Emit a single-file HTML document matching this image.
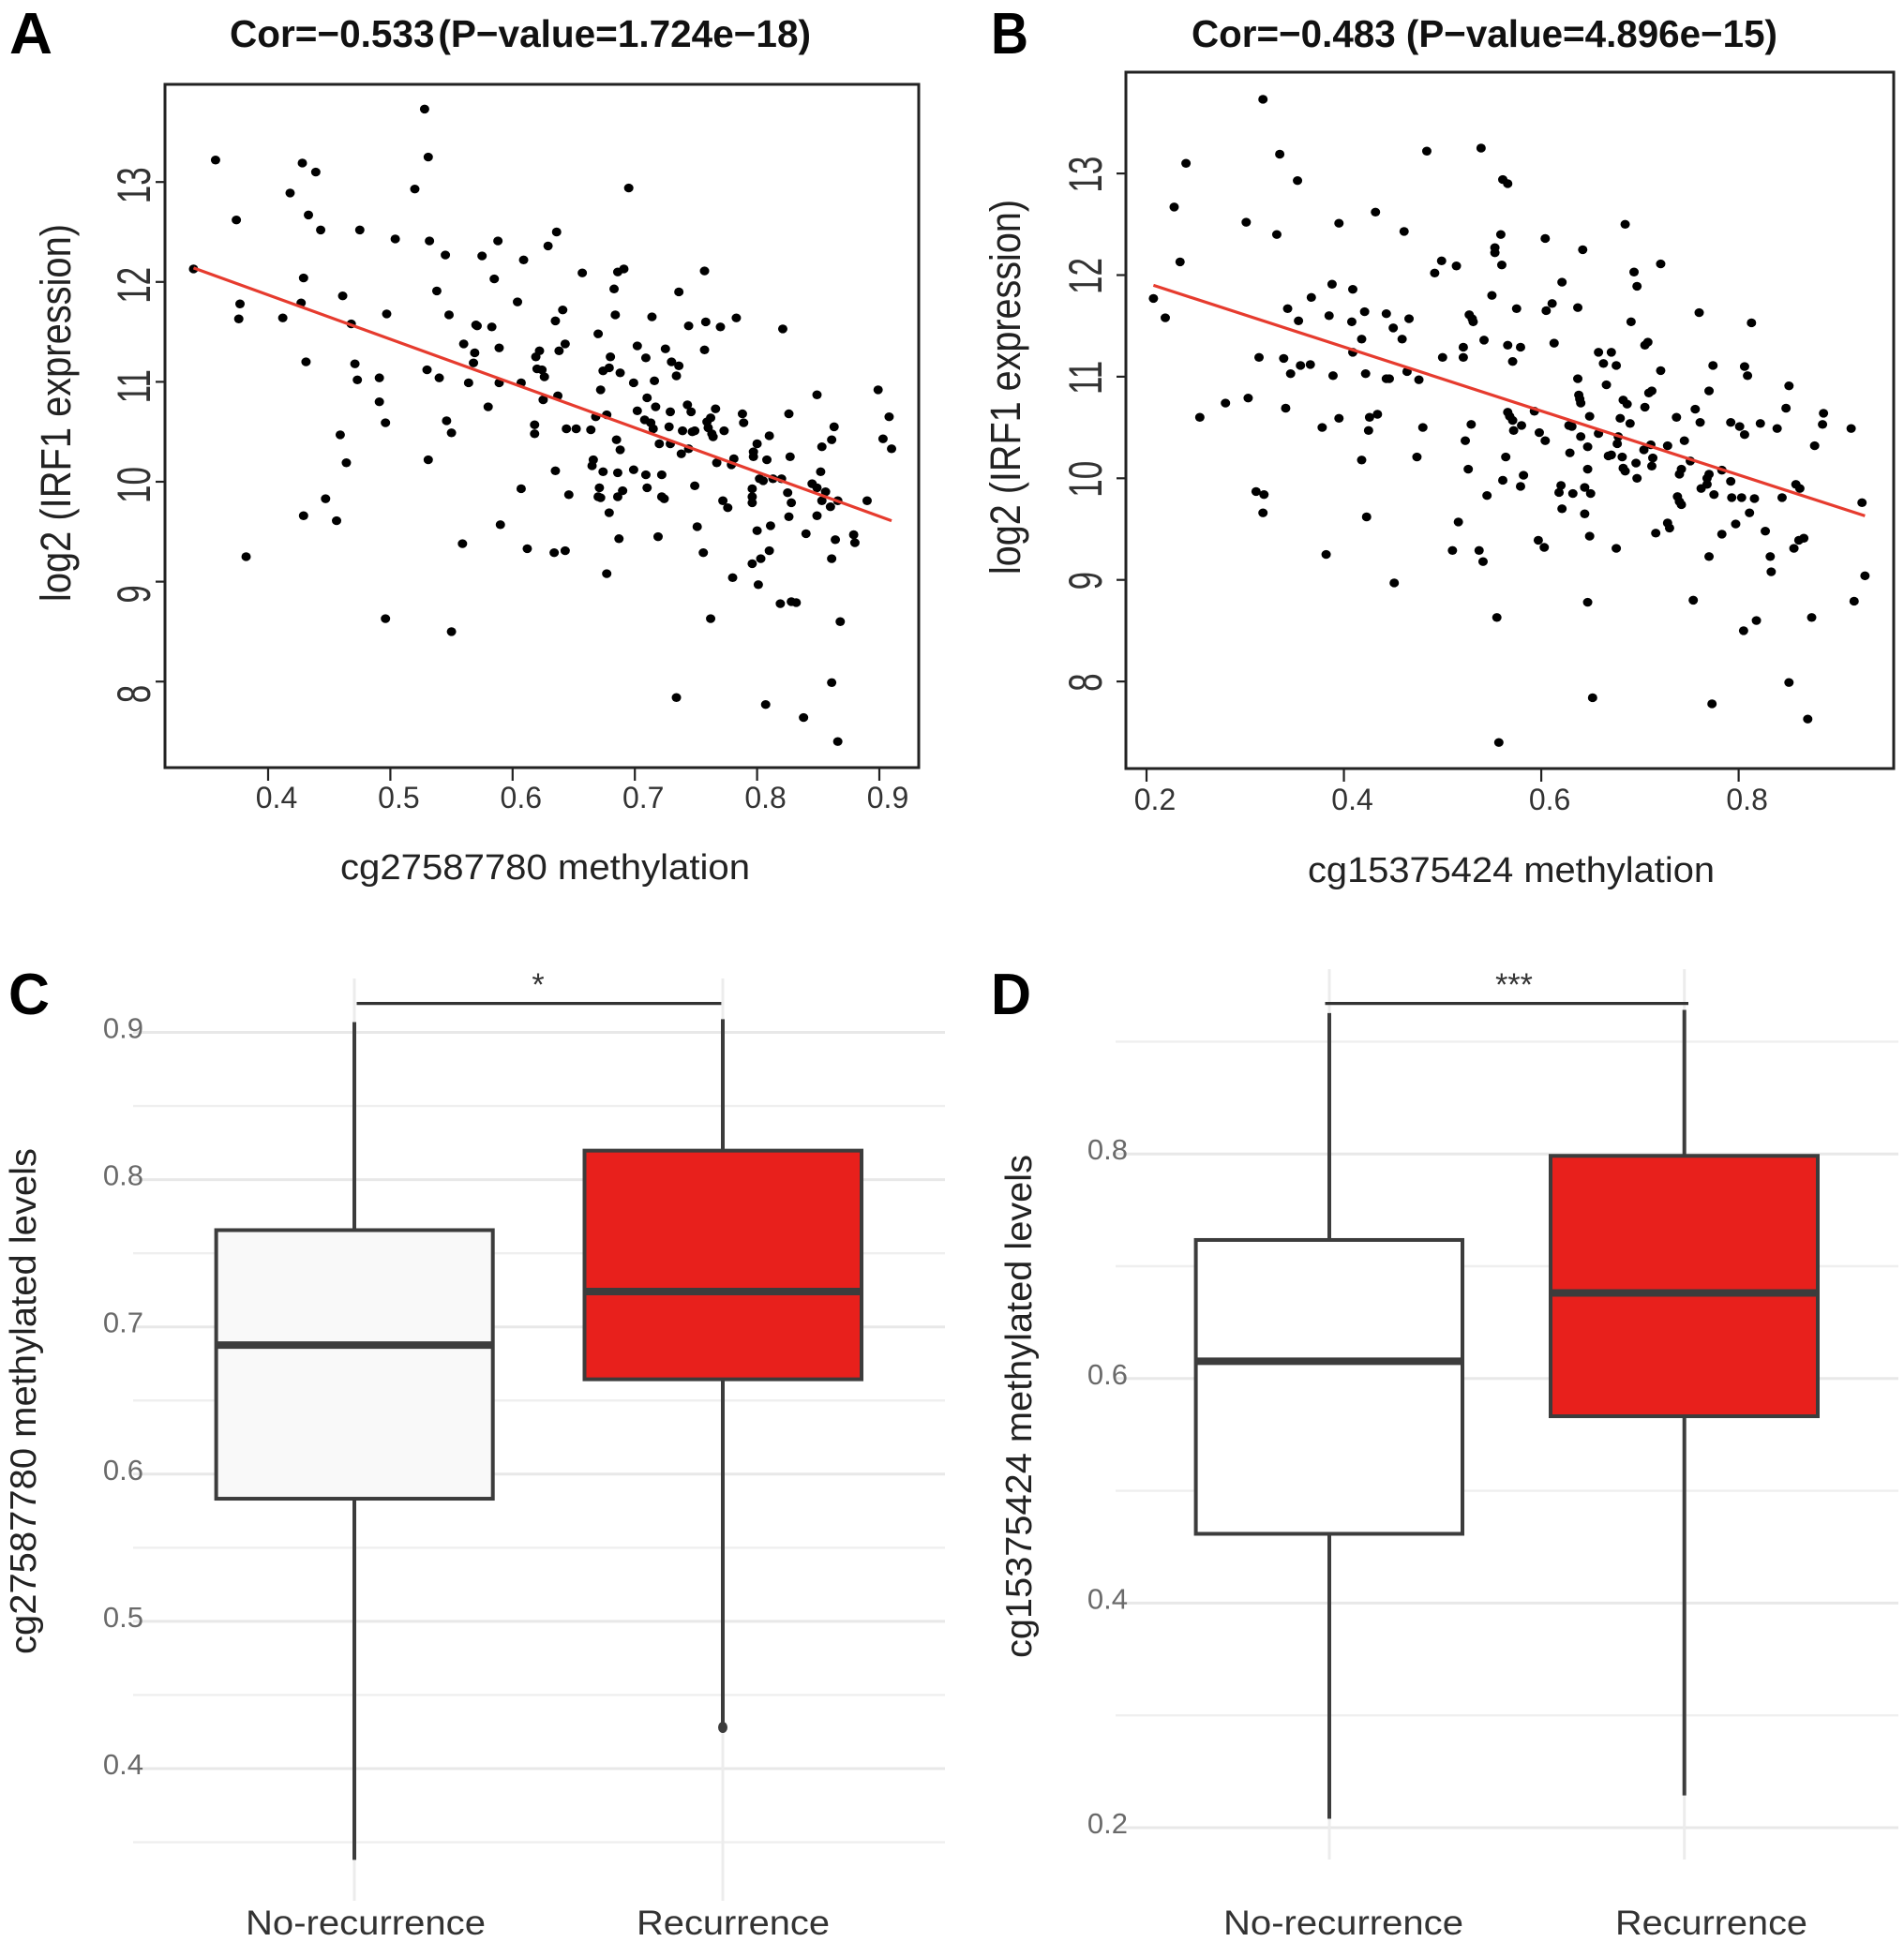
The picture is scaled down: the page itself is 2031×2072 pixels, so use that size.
<!DOCTYPE html>
<html lang="en">
<head>
<meta charset="utf-8">
<title>IRF1 expression and methylation</title>
<style>
html,body{margin:0;padding:0;background:#fff;}
svg{display:block;}
text{font-family:"Liberation Sans",Arial,sans-serif;}
</style>
</head>
<body>
<svg id="fig" xmlns="http://www.w3.org/2000/svg" width="2031" height="2072" viewBox="0 0 2031 2072">
<rect x="0" y="0" width="2031" height="2072" fill="#fff"/>
<text x="10" y="57" font-size="62" font-weight="700" fill="#000" textLength="46" lengthAdjust="spacingAndGlyphs">A</text>
<text x="1057" y="57" font-size="62" font-weight="700" fill="#000" textLength="40" lengthAdjust="spacingAndGlyphs">B</text>
<text x="9" y="1082" font-size="62" font-weight="700" fill="#000" textLength="44" lengthAdjust="spacingAndGlyphs">C</text>
<text x="1057" y="1082" font-size="62" font-weight="700" fill="#000" textLength="43" lengthAdjust="spacingAndGlyphs">D</text>

<text x="245" y="50" font-size="41" font-weight="700" fill="#111" textLength="620" lengthAdjust="spacingAndGlyphs">Cor=−0.533<tspan font-size="14"> </tspan>(P−value=1.724e−18)</text>
<text x="1271" y="50" font-size="41" font-weight="700" fill="#111" textLength="625" lengthAdjust="spacingAndGlyphs">Cor=−0.483 (P−value=4.896e−15)</text>

<text x="363" y="938" font-size="38" fill="#222" textLength="437" lengthAdjust="spacingAndGlyphs">cg27587780 methylation</text>
<text x="1395" y="941" font-size="38" fill="#222" textLength="434" lengthAdjust="spacingAndGlyphs">cg15375424 methylation</text>
<text transform="translate(75,642) rotate(-90)" x="0" y="0" font-size="45" fill="#222" textLength="403" lengthAdjust="spacingAndGlyphs">log2 (IRF1 expression)</text>
<text transform="translate(1088,613) rotate(-90)" x="0" y="0" font-size="45" fill="#222" textLength="400" lengthAdjust="spacingAndGlyphs">log2 (IRF1 expression)</text>
<text transform="translate(38,1765) rotate(-90)" x="0" y="0" font-size="39" fill="#222" textLength="540" lengthAdjust="spacingAndGlyphs">cg27587780 methylated levels</text>
<text transform="translate(1100,1769) rotate(-90)" x="0" y="0" font-size="39" fill="#222" textLength="537" lengthAdjust="spacingAndGlyphs">cg15375424 methylated levels</text>

<text x="262" y="2064" font-size="37" fill="#333" textLength="256" lengthAdjust="spacingAndGlyphs">No-recurrence</text>
<text x="679" y="2064" font-size="37" fill="#333" textLength="206" lengthAdjust="spacingAndGlyphs">Recurrence</text>
<text x="1305" y="2064" font-size="37" fill="#333" textLength="256" lengthAdjust="spacingAndGlyphs">No-recurrence</text>
<text x="1723" y="2064" font-size="37" fill="#333" textLength="205" lengthAdjust="spacingAndGlyphs">Recurrence</text>

<text x="574" y="1062" font-size="34" fill="#333" text-anchor="middle">*</text>
<text x="1615" y="1062" font-size="34" fill="#333" text-anchor="middle">***</text>
</svg>
<script>
// Panel A scatter values
const aXs = [.357,.528,.531,.428,.439,.520,.695,.418,.374,.433,.443,.475,.504,.532,.588,.636,.629,.545,.575,.609,.757,.691,.686,.657,.339,.429,.585,.683,.538,.736,.461,.604,.377,.427,.641,.497,.548,.684,.376,.412,.714,.783,.635,.758,.468,.570,.571,.583,.744,.770,.821,.670,.560,.643,.702,.725,.589,.757,.622,.638,.569,.619,.680,.709,.431,.471,.568,.730,.736,.530,.620,.624,.679,.674,.688,.626,.734,.491,.540,.473,.564,.589,.607,.699,.716,.899,.672,.637,.710,.849,.625,.491,.717,.743,.580,.702,.766,.729,.746,.788,.826,.677,.668,.908,.546,.496,.762,.789,.708,.713,.759,.618,.728,.644,.652,.664,.863,.715,.760,.459,.550,.618,.739,.747,.749,.773,.763,.764,.810,.903,.861,.685,.800,.720,.729,.853,.688,.744,.910,.738,.797,.827,.531,.797,.464,.666,.767,.781,.808,.779,.665,.635,.699,.674,.686,.709,.722,.852,.802,.805,.813,.820,.845,.849,.856,.607,.671,.749,.710,.690,.796,.825,.722,.724,.646,.670,.672,.686,.796,.796,.853,.828,.866,.890,.772,.860,.776,.447,.679,.429,.826,.849,.456,.590,.751,.811,.800,.840,.879,.719,.687,.864,.880,.559,.612,.634,.643,.810,.756,.803,.861,.382,.796,.677,.780,.801,.819,.828,.832,.496,.762,.868,.550,.734,.807,.861,.838,.866];
const aYs = [13.22,13.73,13.25,13.19,13.10,12.93,12.94,12.89,12.62,12.67,12.52,12.52,12.43,12.41,12.41,12.50,12.36,12.27,12.26,12.22,12.11,12.13,12.10,12.09,12.13,12.04,12.03,11.93,11.91,11.90,11.86,11.80,11.78,11.79,11.72,11.68,11.67,11.67,11.63,11.64,11.65,11.64,11.61,11.60,11.58,11.57,11.56,11.55,11.56,11.55,11.53,11.48,11.38,11.38,11.36,11.33,11.34,11.32,11.31,11.31,11.29,11.25,11.25,11.24,11.20,11.18,11.19,11.20,11.16,11.12,11.13,11.12,11.14,11.11,11.09,11.05,11.06,11.04,11.04,11.02,10.99,10.99,10.99,10.99,11.01,10.92,10.92,10.86,10.84,10.87,10.82,10.80,10.75,10.77,10.75,10.71,10.73,10.70,10.70,10.68,10.68,10.67,10.65,10.65,10.61,10.59,10.64,10.59,10.62,10.59,10.60,10.57,10.55,10.53,10.53,10.52,10.55,10.53,10.54,10.47,10.49,10.48,10.51,10.50,10.51,10.51,10.48,10.45,10.46,10.43,10.42,10.42,10.38,10.38,10.38,10.35,10.32,10.33,10.33,10.28,10.30,10.25,10.22,10.25,10.19,10.22,10.19,10.23,10.22,10.17,10.16,10.11,10.12,10.10,10.09,10.07,10.07,10.10,10.03,10.01,10.03,10.03,9.98,9.94,9.90,9.93,9.94,9.96,9.94,9.91,9.93,9.89,9.85,9.83,9.87,9.85,9.84,9.85,9.85,9.79,9.81,9.79,9.81,9.81,9.81,9.75,9.74,9.83,9.69,9.66,9.65,9.66,9.61,9.57,9.55,9.56,9.51,9.48,9.47,9.45,9.43,9.42,9.39,9.38,9.33,9.29,9.31,9.31,9.29,9.23,9.23,9.25,9.18,9.08,9.04,8.97,8.78,8.80,8.79,8.63,8.63,8.60,8.50,7.84,7.77,7.99,7.64,7.40];
const aFitX = [.339,.910];
const aFitY = [12.14,9.61];
const aXTicks = ['0.4','0.5','0.6','0.7','0.8','0.9'];
const aYTicks = ['8','9','10','11','12','13'];

// Panel B scatter values
const bXs = [.318,.539,.484,.335,.240,.353,.561,.566,.228,.432,.301,.395,.685,.461,.332,.559,.604,.642,.553,.553,.234,.499,.514,.560,.721,.492,.694,.621,.388,.697,.409,.367,.550,.207,.611,.343,.575,.637,.605,.421,.760,.443,.527,.385,.219,.530,.466,.354,.408,.531,.691,.813,.450,.418,.459,.542,.708,.705,.613,.566,.521,.579,.409,.658,.671,.314,.339,.500,.521,.571,.663,.356,.366,.676,.774,.806,.721,.346,.422,.464,.809,.389,.443,.446,.476,.637,.666,.851,.712,.709,.770,.638,.639,.303,.683,.640,.280,.687,.705,.341,.756,.848,.593,.566,.886,.434,.568,.254,.426,.649,.737,.680,.395,.571,.761,.792,.822,.529,.580,.628,.631,.690,.885,.801,.378,.480,.914,.839,.425,.572,.598,.658,.806,.640,.678,.677,.523,.604,.745,.711,.728,.647,.877,.704,.629,.668,.671,.682,.564,.474,.418,.713,.696,.751,.712,.683,.685,.526,.647,.783,.742,.740,.582,.770,.768,.697,.561,.792,.768,.858,.862,.762,.579,.620,.618,.644,.632,.650,.775,.738,.545,.311,.319,.793,.803,.816,.844,.740,.742,.925,.621,.318,.644,.811,.423,.516,.728,.797,.730,.827,.716,.783,.649,.866,.861,.597,.603,.856,.510,.537,.676,.382,.832,.770,.541,.833,.451,.928,.754,.647,.917,.555,.874,.818,.805,.851,.652,.773,.870,.557];
const bYs = [13.73,13.25,13.22,13.19,13.10,12.93,12.94,12.90,12.67,12.62,12.52,12.51,12.50,12.43,12.40,12.40,12.36,12.25,12.27,12.22,12.13,12.14,12.09,12.10,12.11,12.02,12.03,11.93,11.91,11.89,11.86,11.78,11.80,11.77,11.72,11.67,11.67,11.68,11.65,11.64,11.63,11.62,11.61,11.60,11.58,11.57,11.57,11.55,11.54,11.54,11.54,11.53,11.48,11.37,11.37,11.36,11.34,11.31,11.33,11.31,11.29,11.29,11.24,11.24,11.24,11.19,11.18,11.19,11.19,11.15,11.13,11.11,11.12,11.11,11.11,11.10,11.06,11.03,11.03,11.05,11.01,11.01,10.98,10.98,10.97,10.98,10.92,10.91,10.86,10.84,10.86,10.82,10.78,10.79,10.77,10.74,10.74,10.73,10.70,10.69,10.68,10.69,10.66,10.65,10.64,10.63,10.61,10.60,10.60,10.61,10.60,10.59,10.59,10.57,10.55,10.55,10.54,10.53,10.52,10.52,10.51,10.54,10.53,10.51,10.50,10.50,10.49,10.49,10.47,10.47,10.45,10.44,10.43,10.41,10.41,10.34,10.37,10.37,10.37,10.33,10.32,10.31,10.32,10.28,10.25,10.22,10.23,10.21,10.21,10.21,10.18,10.20,10.15,10.17,10.12,10.10,10.07,10.09,10.09,10.08,10.09,10.04,10.03,10.04,10.00,10.00,9.98,9.97,9.94,9.94,9.90,9.90,9.92,9.93,9.86,9.91,9.85,9.85,9.84,9.82,9.83,9.87,9.84,9.81,9.81,9.80,9.81,9.77,9.74,9.76,9.70,9.66,9.65,9.66,9.62,9.57,9.56,9.55,9.51,9.48,9.46,9.45,9.43,9.41,9.39,9.39,9.32,9.31,9.29,9.29,9.31,9.25,9.23,9.23,9.18,9.08,8.97,9.04,8.80,8.78,8.79,8.63,8.63,8.60,8.50,7.99,7.84,7.78,7.63,7.40];
const bFitX = [.207,.928];
const bFitY = [11.90,9.63];
const bXTicks = ['0.2','0.4','0.6','0.8'];
const bYTicks = ['8','9','10','11','12','13'];

// Panel C box values (No-recurrence, Recurrence)
const cCategories = ['no-recurrence','recurrence'];
const cWhiskerHigh = [.907,.909];
const cQ3 = [.7657,.8197];
const cMedian = [.6876,.724];
const cQ1 = [.5833,.6644];
const cWhiskerLow = [.338,.428];
const cOutliers = [[],[.428]];
const cMajorTicks = ['0.4','0.5','0.6','0.7','0.8','0.9'];
const cMinorTicks = [.35,.45,.55,.65,.75,.85];

// Panel D box values (No-recurrence, Recurrence)
const dCategories = ['no-recurrence','recurrence'];
const dWhiskerHigh = [.9255,.9283];
const dQ3 = [.7234,.7983];
const dMedian = [.6154,.6762];
const dQ1 = [.4617,.5664];
const dWhiskerLow = [.2079,.2287];
const dOutliers = [[],[]];
const dMajorTicks = ['0.2','0.4','0.6','0.8'];
const dMinorTicks = [.3,.5,.7,.9];

const svg = document.getElementById('fig');
const NS = 'http://www.w3.org/2000/svg';
function mk(tag, attrs, parent) {
  const el = document.createElementNS(NS, tag);
  for (const k in attrs) el.setAttribute(k, attrs[k]);
  (parent || svg).appendChild(el);
  return el;
}

function drawScatter(id, xs, ys, fitX, fitY, xTicks, yTicks, L, R, T, B, sx, sy, xOff, xBase, yBaseX, yAnchor, yOff) {
  const g = mk('g', {});
  
  
  const frame = mk('rect', {x:L, y:T, width:R-L, height:B-T, fill:'#fff', stroke:'#222', 'stroke-width':3}, g);
  
  
  xTicks.forEach(function (t) {
    const px = sx(parseFloat(t));
    const tick = mk('line', {x1:px, x2:px, y1:B, y2:B+14, stroke:'#222', 'stroke-width':2.2}, g);
    
    
    const label = mk('text', {x:px+xOff, y:xBase, 'font-size':32, fill:'#333', 'text-anchor':'middle'}, g);
    label.textContent = t;
    
    
  });
  yTicks.forEach(function (t) {
    const py = sy(parseFloat(t));
    const tick = mk('line', {x1:L-10, x2:L, y1:py, y2:py, stroke:'#222', 'stroke-width':2.2}, g);
    
    
    const label = mk('text', {transform:'translate(' + yBaseX + ',' + (py+yOff) + ') rotate(-90) scale(0.7,1)', x:0, y:0, 'font-size':50, fill:'#333', 'text-anchor':yAnchor}, g);
    label.textContent = t;
    
    
  });
  xs.forEach(function (v, i) {
    const dot = mk('ellipse', {cx:sx(v), cy:sy(ys[i]), rx:5, ry:4.7, fill:'#000'}, g);
    
    
  });
  const fit = mk('line', {x1:sx(fitX[0]), y1:sy(fitY[0]), x2:sx(fitX[1]), y2:sy(fitY[1]), stroke:'#e63b2e', 'stroke-width':3.2}, g);
  
  
}

drawScatter('a', aXs, aYs, aFitX, aFitY, aXTicks, aYTicks, 176, 980, 90, 819,
  function (v) { return 286 + (v - .4) * 1304; },
  function (v) { return 514 - (v - 10) * 106.6; },
  9, 862, 160, 'start', 23);
drawScatter('b', bXs, bYs, bFitX, bFitY, bXTicks, bYTicks, 1201, 2020, 77, 820,
  function (v) { return 1223 + (v - .2) * 1052.7; },
  function (v) { return 510.3 - (v - 10) * 108.4; },
  9, 864, 1175, 'middle', 1);

function drawBox(id, cats, wh, q3, med, q1, wl, outs, major, minor, sy, gridL, gridR, vT, vB, centers, lefts, rights, fills, brY, brL, brR, tickEnd) {
  const g = mk('g', {});
  
  
  minor.forEach(function (v) {
    const line = mk('line', {x1:gridL, x2:gridR, y1:sy(v), y2:sy(v), stroke:'#efefef', 'stroke-width':2.4}, g);
    
    
  });
  major.forEach(function (t) {
    const py = sy(parseFloat(t));
    const line = mk('line', {x1:gridL, x2:gridR, y1:py, y2:py, stroke:'#e8e8e8', 'stroke-width':3}, g);
    
    
    const label = mk('text', {x:tickEnd, y:py+6, 'font-size':31, fill:'#6a6a6a', 'text-anchor':'end'}, g);
    label.textContent = t;
    
    
  });
  centers.forEach(function (c) {
    const line = mk('line', {x1:c, x2:c, y1:vT, y2:vB, stroke:'#ececec', 'stroke-width':3}, g);
    
    
  });
  cats.forEach(function (cat, i) {
    const whisker = mk('line', {x1:centers[i], x2:centers[i], y1:sy(wh[i]), y2:sy(wl[i]), stroke:'#3c3c3c', 'stroke-width':4}, g);
    
    
    outs[i].forEach(function (v) {
      const o = mk('ellipse', {cx:centers[i], cy:sy(v), rx:5, ry:6, fill:'#3c3c3c'}, g);
      
      
    });
    const box = mk('rect', {x:lefts[i], y:sy(q3[i]), width:rights[i]-lefts[i], height:sy(q1[i])-sy(q3[i]), fill:fills[i], stroke:'#3c3c3c', 'stroke-width':4}, g);
    
    
    const m = mk('line', {x1:lefts[i], x2:rights[i], y1:sy(med[i]), y2:sy(med[i]), stroke:'#3c3c3c', 'stroke-width':8}, g);
    
    
  });
  const bracket = mk('line', {x1:brL, x2:brR, y1:brY, y2:brY, stroke:'#333', 'stroke-width':3.2}, g);
  
  
}

drawBox('c', cCategories, cWhiskerHigh, cQ3, cMedian, cQ1, cWhiskerLow, cOutliers, cMajorTicks, cMinorTicks,
  function (v) { return 1887 - (v - .4) * 1571; },
  142, 1008, 1044, 2028, [378,771], [230.6,623.5], [525.7,919], ['#f9f9f9','#e8201c'], 1070.6, 380.5, 769.4, 153);
drawBox('d', dCategories, dWhiskerHigh, dQ3, dMedian, dQ1, dWhiskerLow, dOutliers, dMajorTicks, dMinorTicks,
  function (v) { return 1950 - (v - .2) * 1198; },
  1190, 2025, 1034, 1984, [1418,1796.7], [1275.6,1654], [1560,1939], ['#ffffff','#e8201c'], 1070.6, 1413.5, 1801, 1203);
</script>
</body>
</html>
